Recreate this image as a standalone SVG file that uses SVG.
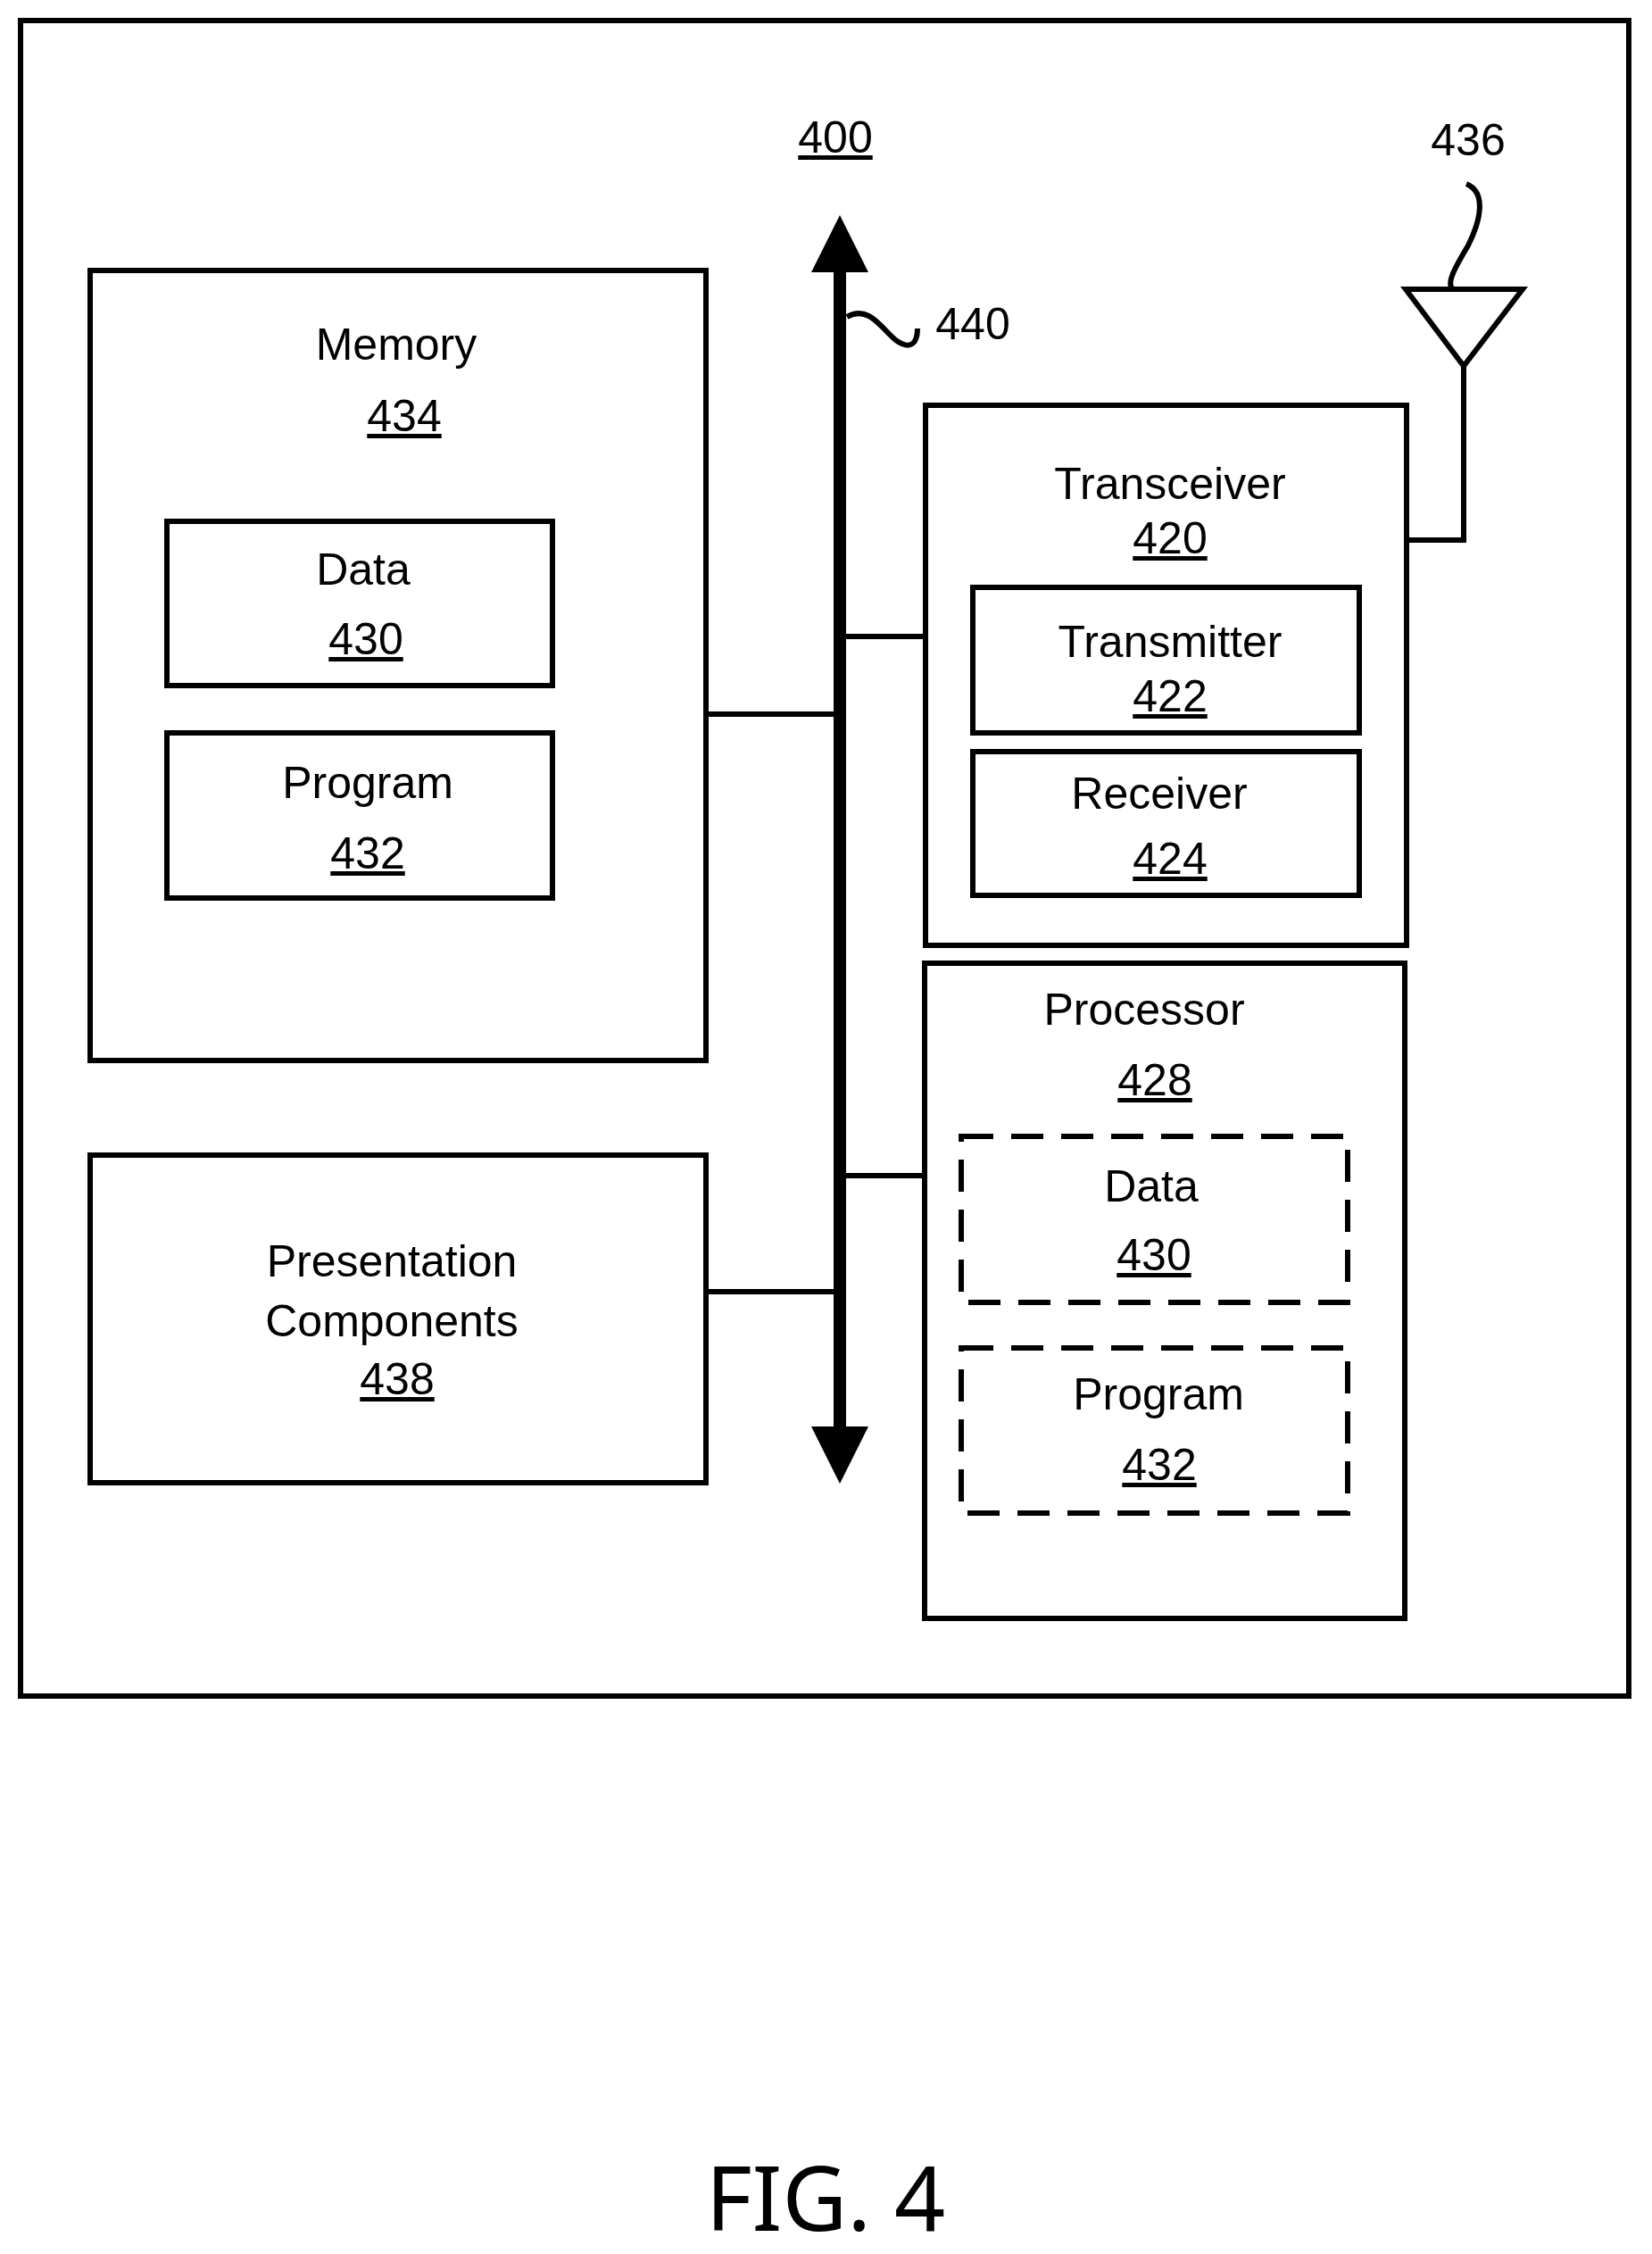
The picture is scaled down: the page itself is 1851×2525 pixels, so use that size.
<svg xmlns="http://www.w3.org/2000/svg" width="1851" height="2525" viewBox="0 0 1851 2525">
<style>
.b{fill:none;stroke:#000;stroke-width:6}
.d{fill:none;stroke:#000;stroke-width:6;stroke-dasharray:36,20}
.l{fill:none;stroke:#000;stroke-width:6}
text{font-family:"Liberation Sans",Arial,sans-serif;font-size:50px;text-anchor:middle;fill:#000}
.u{text-decoration:underline}
</style>
<rect width="1851" height="2525" fill="#fff"/>
<rect class="b" x="23" y="23" width="1802" height="1877"/>
<text class="u" x="936" y="171">400</text>
<g id="connectors">
<line x1="941" y1="300" x2="941" y2="1600" stroke="#000" stroke-width="14"/>
<polygon points="941,241 909,305 973,305"/>
<polygon points="941,1662 909,1598 973,1598"/>
<line class="l" x1="791" y1="800" x2="941" y2="800"/>
<line class="l" x1="791" y1="1447" x2="941" y2="1447"/>
<line class="l" x1="941" y1="713" x2="1037" y2="713"/>
<line class="l" x1="941" y1="1317" x2="1036" y2="1317"/>
<path class="l" d="M949,355 C975,340 990,372 1005,382 C1020,392 1028,385 1028,368"/>
<polyline class="l" points="1576,605 1640,605 1640,410"/>
</g>
<text x="1090" y="380">440</text>
<g id="antenna">
<polygon class="b" points="1575,324 1706,324 1640,410"/>
<path class="l" d="M1643,206 C1665,215 1660,245 1645,275 C1630,300 1620,318 1628,324"/>
<text x="1645" y="174">436</text>
</g>
<g id="memory">
<rect class="b" x="101" y="303" width="690" height="885"/>
<text x="444" y="403">Memory</text>
<text class="u" x="453" y="483">434</text>
</g>
<g id="mem-data">
<rect class="b" x="187" y="584" width="432" height="184"/>
<text x="407" y="655">Data</text>
<text class="u" x="410" y="733">430</text>
</g>
<g id="mem-program">
<rect class="b" x="187" y="821" width="432" height="185"/>
<text x="412" y="894">Program</text>
<text class="u" x="412" y="973">432</text>
</g>
<g id="presentation">
<rect class="b" x="101" y="1294" width="690" height="367"/>
<text x="439" y="1430">Presentation</text>
<text x="439" y="1497">Components</text>
<text class="u" x="445" y="1562">438</text>
</g>
<g id="transceiver">
<rect class="b" x="1037" y="454" width="539" height="605"/>
<text x="1311" y="559">Transceiver</text>
<text class="u" x="1311" y="620">420</text>
</g>
<g id="transmitter">
<rect class="b" x="1090" y="658" width="433" height="163"/>
<text x="1311" y="736">Transmitter</text>
<text class="u" x="1311" y="797">422</text>
</g>
<g id="receiver">
<rect class="b" x="1090" y="842" width="433" height="161"/>
<text x="1299" y="906">Receiver</text>
<text class="u" x="1311" y="979">424</text>
</g>
<g id="processor">
<rect class="b" x="1036" y="1079" width="538" height="734"/>
<text x="1282" y="1148">Processor</text>
<text class="u" x="1294" y="1227">428</text>
</g>
<g id="proc-data">
<rect class="d" x="1077" y="1273" width="433" height="186"/>
<text x="1290" y="1346">Data</text>
<text class="u" x="1293" y="1423">430</text>
</g>
<g id="proc-program">
<rect class="d" x="1077" y="1510" width="433" height="185"/>
<text x="1298" y="1579">Program</text>
<text class="u" x="1299" y="1658">432</text>
</g>
<text x="925" y="2499" style="font-family:'Noto Sans','DejaVu Sans',sans-serif;font-size:100px">FIG. 4</text>
</svg>
